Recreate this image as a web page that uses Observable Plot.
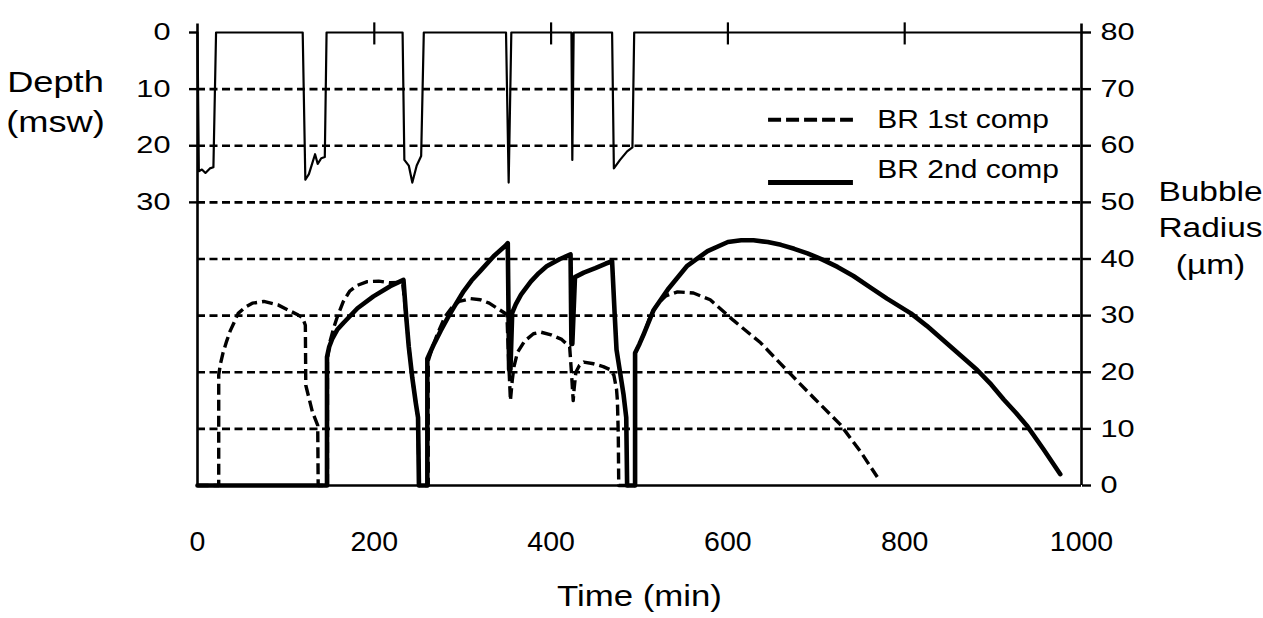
<!DOCTYPE html>
<html><head><meta charset="utf-8">
<script src="https://cdn.jsdelivr.net/npm/d3@7"></script>
<script src="https://cdn.jsdelivr.net/npm/@observablehq/plot@0.6"></script>
<style>body{margin:0;background:#fff}</style>
</head><body><div id="chart"></div>
<script>
// ---- data ----
const timeTicks = [0, 200, 400, 600, 800, 1000];
const topTicks = [200, 400, 600, 800];
const timeDomain = [0, 1000];
const radiusTicks = [0, 10, 20, 30, 40, 50, 60, 70, 80];
const gridValues = [10, 20, 30, 40, 50, 60, 70];
const depthTicks = [0, 10, 20, 30];
const surfaceRadius = 80; // depth 0 msw is drawn at radius 80 µm

// dive profile: [time (min), depth (msw)]
const depthProfile = [
  [0,0],[1.5,24.5],[5,24.2],[9,24.8],[14,24],[18,23.8],[21,0],
  [119,0],[122,26],[126,25],[129,23.5],[133,21.5],[136,23.2],[140,22.2],[144,22],[146,0],
  [232,0],[234,22.5],[239,23.5],[243,26.5],[248,23.5],[253,21.8],[256,0],
  [349,0],[352,26.5],[355,0],
  [423,0],[424,22.5],[425.5,0],
  [469,0],[471,24],[478,22.5],[486,21],[492,20.3],[494,0],
  [1000,0]
];

// bubble radius, 1st compartment: [time (min), radius (µm)]
const br1st = [
  [0,0],[24,0],[24,19.5],[26,21.5],[29,23.5],[33,25.5],[37,27.3],[42,29],[46,30.4],[54,31.5],[62,32.2],[75,32.5],[91,31.9],[105,30.8],[114,30.1],[119,29.6],[122,28.3],[122.5,17.7],[126,15.5],[130,13],[136,10.6],[136.5,0],
  [147,0],[147,22.5],[150,25.5],[154,27.8],[158,29.7],[165,32.5],[172,34.3],[180,35.3],[192,36],[205,36.1],[218,35.8],[232,35.9],[236,30],[239,24.5],[243,19],[247,14.5],[249.5,12],[250.5,0],
  [261,0],[261,22],[266,24.5],[272,27],[280,29.8],[288,31.5],[296,32.5],[309,33],[320,32.8],[330,32.2],[342,31],[350,30.2],[352,22],[354,15],[356,18.5],[358,21],[362,23.5],[370,25.5],[380,26.8],[388,27.1],[400,26.6],[412,25.8],[421,24.5],[423,20],[425,15],[426,17],[428,20],[432,21.2],[437,21.8],[448,21.5],[459,21],[466,20.5],[471,19.5],[474,17],[475,15],[476,9],[476.5,0],
  [495,0],[495,23.4],[500,25],[505,26.8],[512,29.8],[520,32],[530,33.5],[543,34.2],[561,34],[580,32.8],[606,29.2],[637,25.2],[667,20.3],[697,15.5],[727,10.8],[750,6],[769,1.5]
];

// bubble radius, 2nd compartment: [time (min), radius (µm)]
const br2nd = [
  [0,0],[146.5,0],[146.5,22.7],[149,24.5],[152.7,26],[158,27.5],[165,28.7],[181,31.3],[199,33.4],[218,35.2],[233,36.3],[236,30],[239,24.5],[243,19],[247,14.5],[249.5,12],[250.5,0],
  [260,0],[260,22.4],[267,24.8],[275,27.3],[283,29.6],[292,32],[301,34.3],[310,36.2],[320,37.9],[335,40.5],[348,42.3],[351,42.8],[352.5,20.5],[354,20.5],[356,30.5],[360,32],[366,33.7],[377,36],[386,37.5],[395,38.7],[410,40],[422,40.8],[423,25],[424,25],[427,36.8],[437,37.6],[450,38.4],[462,39.2],[469,39.6],[472,30],[474,24],[478,20],[482,16],[485,12],[486,0],
  [495,0],[495,23.4],[500,25],[505,26.8],[516,31],[532,34.6],[554,38.8],[577,41.4],[600,43],[615,43.3],[629,43.3],[645,43],[660,42.5],[675,41.8],[690,41],[707,39.9],[724,38.6],[742,37],[761,35],[780,33],[807,30.4],[825,28.2],[844,25.6],[863,23],[882,20.4],[898,17.8],[912,15.2],[926,12.8],[939,10.4],[957,6.4],[976,2]
];

const legendLabels = ["BR 1st comp", "BR 2nd comp"];
const depthTitle = "Depth\n(msw)";
const radiusTitle = "Bubble\nRadius\n(\u00b5m)";
const timeTitle = "Time (min)";

// ---- tables ----
const depthRows = depthProfile.map(([t, d]) => ({t, r: surfaceRadius - d}));
const br1Rows = br1st.map(([t, r]) => ({t, r}));
const br2Rows = br2nd.map(([t, r]) => ({t, r}));

const FONT = "'Liberation Sans', Arial, Helvetica, sans-serif";

const svg = Plot.plot({
  width: 1263,
  height: 618,
  marginLeft: 197,
  marginRight: 182,
  marginTop: 32,
  marginBottom: 133,
  style: {fontFamily: FONT, background: "#fff", color: "#000", overflow: "visible"},
  x: {domain: timeDomain, label: null},
  y: {domain: [0, 80], label: null},
  marks: [
    Plot.ruleY(gridValues, {x1: timeDomain[0], x2: timeDomain[1], stroke: "#000", strokeWidth: 2.6, strokeDasharray: "8,4.5"}),
    Plot.ruleY([0], {x1: timeDomain[0], x2: timeDomain[1], stroke: "#000", strokeWidth: 2.6}),
    Plot.ruleX(timeDomain, {y1: 0, y2: 81.5, stroke: "#000", strokeWidth: 2.6}),
    Plot.ruleX(topTicks, {y1: 77.8, y2: 81.7, stroke: "#000", strokeWidth: 2.2}),
    Plot.axisX(timeTicks, {anchor: "bottom", label: null, tickSize: 0, tickPadding: 45, fontSize: 28.5, tickFormat: d => String(d)}),
    Plot.axisY(depthTicks.map(d => surfaceRadius - d), {anchor: "left", label: null, tickSize: 8, tickPadding: 19, fontSize: 24, strokeWidth: 2.4, tickFormat: d => String(surfaceRadius - d)}),
    Plot.axisY(radiusTicks, {anchor: "right", label: null, tickSize: 9, tickPadding: 10, fontSize: 24, strokeWidth: 2.4, tickFormat: d => String(d)}),
    Plot.line(depthRows, {x: "t", y: "r", stroke: "#000", strokeWidth: 2.2, curve: "linear"}),
    Plot.line(br1Rows, {x: "t", y: "r", stroke: "#000", strokeWidth: 3.4, strokeDasharray: "11,5", strokeLinecap: "butt", curve: "linear"}),
    Plot.line(br2Rows, {x: "t", y: "r", stroke: "#000", strokeWidth: 4.6, curve: "linear"}),
    Plot.ruleY([64.6], {x1: 646, x2: 742, stroke: "#000", strokeWidth: 4, strokeDasharray: "13,5"}),
    Plot.ruleY([53.5], {x1: 646, x2: 742, stroke: "#000", strokeWidth: 5}),
    Plot.text(legendLabels, {x: 769, y: [64.6, 55.8], text: d => d, textAnchor: "start", fontSize: 25}),
    Plot.text([depthTitle], {frameAnchor: "top-left", dx: -142, dy: 67, textAnchor: "middle", lineAnchor: "middle", lineHeight: 1.35, fontSize: 29}),
    Plot.text([radiusTitle], {frameAnchor: "top-right", dx: 129, dy: 193, textAnchor: "middle", lineAnchor: "middle", lineHeight: 1.35, fontSize: 27}),
    Plot.text([timeTitle], {frameAnchor: "bottom", dx: 0, dy: 111, textAnchor: "middle", lineAnchor: "middle", fontSize: 29})
  ]
});

document.getElementById("chart").appendChild(svg);

// widen glyphs horizontally (the reference's lettering is horizontally stretched)
const stretchByText = new Map([
  ...legendLabels.map(l => [l, 1.2]),
  [depthTitle.replace(/\n/g, ""), 1.25],
  [radiusTitle.replace(/\n/g, ""), 1.24],
  [timeTitle, 1.2]
]);
svg.querySelectorAll("text").forEach(t => {
  const g = t.closest("[aria-label]");
  const lab = g ? g.getAttribute("aria-label") : "";
  let s = lab === "y-axis tick label" ? 1.28 : stretchByText.get(t.textContent);
  if (!s || s === 1) return;
  const xa = t.getAttribute("x");
  if (xa !== null && !isNaN(+xa)) t.setAttribute("x", +xa / s);
  t.setAttribute("transform", ((t.getAttribute("transform") || "") + " scale(" + s + ",1)").trim());
});
</script>
</body></html>
